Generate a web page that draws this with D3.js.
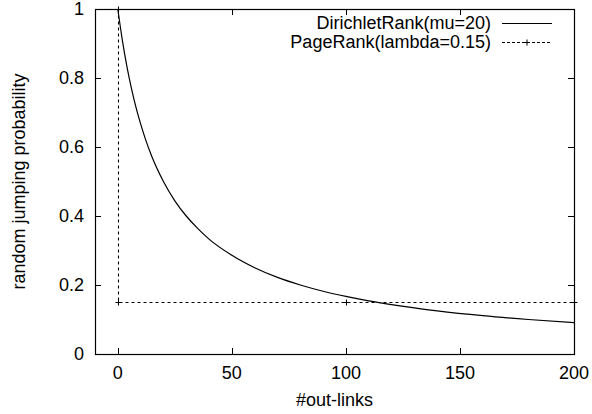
<!DOCTYPE html>
<html>
<head>
<meta charset="utf-8">
<script src="https://cdn.jsdelivr.net/npm/d3@7"></script>
<style>
  html, body { margin: 0; padding: 0; background: #fff; }
  svg { display: block; }
  text { font-family: "Liberation Sans", Arial, Helvetica, sans-serif; fill: #000; }
</style>
</head>
<body>
<svg id="chart" width="592" height="414"></svg>
<script>
// DirichletRank(mu=20): random jumping probability vs number of out-links
const dirichletLinks = [0, 2, 4, 6, 8, 10, 12, 15, 20, 25, 30, 35, 40, 50, 60, 70, 80, 90, 100, 110, 120, 140, 160, 180, 200];
const dirichletProb  = [1.0, 0.909, 0.833, 0.769, 0.714, 0.667, 0.625, 0.571, 0.5, 0.444, 0.4, 0.364, 0.333, 0.286, 0.25, 0.222, 0.2, 0.182, 0.167, 0.154, 0.143, 0.125, 0.111, 0.1, 0.091];

// PageRank(lambda=0.15)
const pagerankLinks = [0, 0, 100, 200];
const pagerankProb  = [1.0, 0.15, 0.15, 0.15];

const xTicks = [0, 50, 100, 150, 200];
const yTicks = [0, 0.2, 0.4, 0.6, 0.8, 1];
const legendLabels = ["DirichletRank(mu=20)", "PageRank(lambda=0.15)"];

const svg = d3.select("#chart");
const plotLeft = 95, plotRight = 574, plotTop = 9, plotBottom = 354;

const x = d3.scaleLinear().domain([-10, 200]).range([plotLeft, plotRight]);
const y = d3.scaleLinear().domain([0, 1]).range([plotBottom, plotTop]);

const tickLen = 6;
const fs = 18;

// tick marks (inward, mirrored on all sides)
const ticks = svg.append("g").attr("stroke", "#000").attr("stroke-width", 1);
xTicks.forEach(t => {
  const px = Math.round(x(t)) + 0.5;
  ticks.append("line").attr("x1", px).attr("x2", px).attr("y1", plotBottom).attr("y2", plotBottom - tickLen);
  ticks.append("line").attr("x1", px).attr("x2", px).attr("y1", plotTop).attr("y2", plotTop + tickLen);
});
yTicks.forEach(t => {
  const py = Math.round(y(t)) + 0.5;
  ticks.append("line").attr("x1", plotLeft).attr("x2", plotLeft + tickLen).attr("y1", py).attr("y2", py);
  ticks.append("line").attr("x1", plotRight).attr("x2", plotRight - tickLen).attr("y1", py).attr("y2", py);
});

// tick labels
svg.append("g").selectAll("text").data(xTicks).join("text")
  .attr("x", d => x(d)).attr("y", 379)
  .attr("text-anchor", "middle").attr("font-size", fs)
  .text(d => d3.format("")(d));
svg.append("g").selectAll("text").data(yTicks).join("text")
  .attr("x", 84).attr("y", d => y(d) + 6)
  .attr("text-anchor", "end").attr("font-size", fs)
  .text(d => d3.format("")(d));

// axis titles
svg.append("text").attr("x", (plotLeft + plotRight) / 2).attr("y", 406)
  .attr("text-anchor", "middle").attr("font-size", fs).text("#out-links");
svg.append("text")
  .attr("transform", `translate(25,${(plotTop + plotBottom) / 2}) rotate(-90)`)
  .attr("text-anchor", "middle").attr("font-size", fs).text("random jumping probability");

// series
const dirData = dirichletLinks.map((d, i) => [d, dirichletProb[i]]);
const prData = pagerankLinks.map((d, i) => [d, pagerankProb[i]]);

svg.append("path").datum(dirData)
  .attr("fill", "none").attr("stroke", "#000").attr("stroke-width", 1.2)
  .attr("d", d3.line().x(d => x(d[0])).y(d => y(d[1])).curve(d3.curveMonotoneX));

svg.append("path").datum(prData)
  .attr("fill", "none").attr("stroke", "#000").attr("stroke-width", 1.1)
  .attr("stroke-dasharray", "3,3")
  .attr("d", d3.line().x(d => Math.round(x(d[0])) + 0.5).y(d => Math.round(y(d[1])) + 0.5));

const plus = 3;
const markers = svg.append("g").attr("stroke", "#000").attr("stroke-width", 1);
prData.forEach(d => {
  const px = Math.round(x(d[0])) + 0.5, py = Math.round(y(d[1])) + 0.5;
  markers.append("line").attr("x1", px - plus).attr("x2", px + plus).attr("y1", py).attr("y2", py);
  markers.append("line").attr("x1", px).attr("x2", px).attr("y1", py - plus).attr("y2", py + plus);
});

// frame
svg.append("rect").attr("x", plotLeft + 0.5).attr("y", plotTop + 0.5)
  .attr("width", plotRight - plotLeft).attr("height", plotBottom - plotTop)
  .attr("fill", "none").attr("stroke", "#000").attr("stroke-width", 1.2);

// legend
const legend = svg.append("g");
const rows = [23, 42];
legendLabels.forEach((lab, i) => {
  legend.append("text").attr("x", 491).attr("y", rows[i] + 6)
    .attr("text-anchor", "end").attr("font-size", fs).text(lab);
});
legend.append("line").attr("x1", 502).attr("x2", 552).attr("y1", rows[0] + 0.5).attr("y2", rows[0] + 0.5)
  .attr("stroke", "#000").attr("stroke-width", 1.2);
legend.append("line").attr("x1", 502).attr("x2", 552).attr("y1", rows[1] + 0.5).attr("y2", rows[1] + 0.5)
  .attr("stroke", "#000").attr("stroke-width", 1).attr("stroke-dasharray", "3,2");
legend.append("line").attr("x1", 524).attr("x2", 530).attr("y1", rows[1] + 0.5).attr("y2", rows[1] + 0.5)
  .attr("stroke", "#000");
legend.append("line").attr("x1", 527).attr("x2", 527).attr("y1", rows[1] - 2.5).attr("y2", rows[1] + 3.5)
  .attr("stroke", "#000");
</script>
</body>
</html>
